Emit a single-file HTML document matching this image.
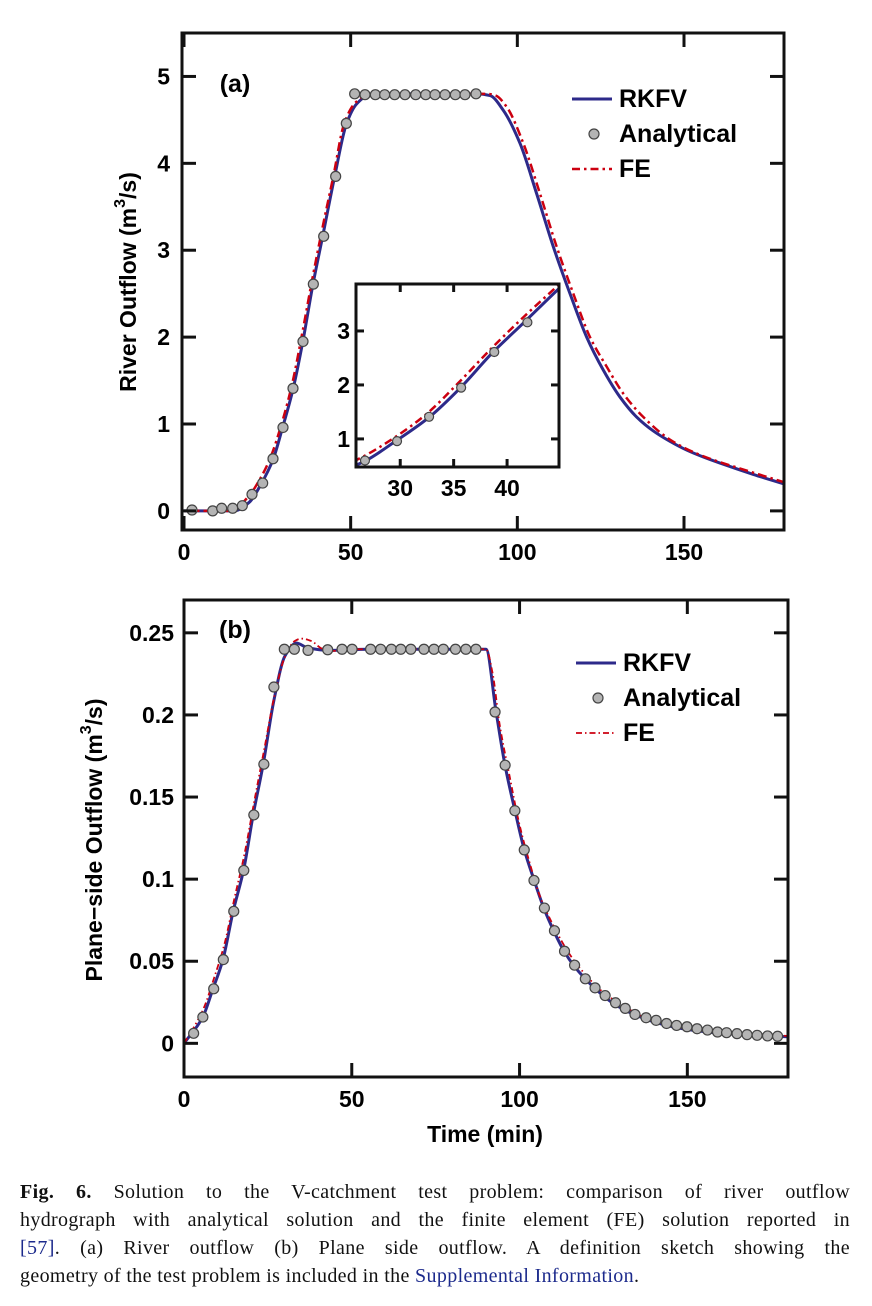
<!DOCTYPE html>
<html><head><meta charset="utf-8"><style>
body{margin:0;background:#fff;width:872px;height:1306px;overflow:hidden;position:relative}
svg{position:absolute;left:0;top:0}
.cap{position:absolute;left:20px;top:1178px;width:830px;font-family:"Liberation Serif",serif;font-size:20px;letter-spacing:0.35px;line-height:28px;color:#111}
.cap span.l{display:block;text-align:justify;text-align-last:justify;white-space:nowrap}
.cap span.last{display:block;text-align:left;white-space:nowrap}
.cap a{color:#1c2a8c;text-decoration:none}
</style></head><body>
<svg id="fig" width="872" height="1170" font-family="Liberation Sans, sans-serif" font-weight="bold"></svg>
<div class="cap"><span class="l"><b>Fig. 6.</b> Solution to the V-catchment test problem: comparison of river outflow</span><span class="l">hydrograph with analytical solution and the finite element (FE) solution reported in</span><span class="l"><a>[57]</a>. (a) River outflow (b) Plane side outflow. A definition sketch showing the</span><span class="last">geometry of the test problem is included in the <a>Supplemental Information</a>.</span></div>
<script>
// Panel (a) data
const aRkfvT=[0,15,19.6,23,26.7,29.5,32.7,35.6,38.6,41.6,45.1,48.7,51.7,55.2,60,88,91.8,95.8,100.8,105.8,110.8,115.8,120.8,125.8,130.8,135.8,140.8,145.8,150.8,155.8,160.8,170.8,180];
const aRkfvV=[0,0,0.1,0.3,0.59,0.95,1.4,1.94,2.59,3.16,3.83,4.45,4.68,4.78,4.8,4.8,4.78,4.61,4.23,3.65,3.04,2.5,2.0,1.62,1.31,1.08,0.92,0.80,0.70,0.62,0.55,0.42,0.31];
const aFeT=[0,14,19,23,26,29.5,32.5,35.5,38.5,41.5,44.8,48,51,54,57,91,93.5,96.8,101.8,106.8,111.8,116.8,121.8,126.8,131.8,137.8,145.8,153.8,170.8,180];
const aFeV=[0,0,0.15,0.38,0.62,1.03,1.47,2.05,2.67,3.25,3.85,4.45,4.68,4.77,4.8,4.8,4.78,4.65,4.23,3.65,3.04,2.5,2.0,1.66,1.35,1.08,0.82,0.66,0.44,0.33];
const aAnaT=[2.4,8.6,11.3,14.6,17.5,20.4,23.6,26.7,29.7,32.7,35.7,38.8,41.9,45.5,48.7,51.2,54.3,57.4,60.2,63.2,66.3,69.5,72.5,75.3,78.3,81.4,84.3,87.6];
const aAnaV=[0.01,0,0.03,0.03,0.06,0.19,0.32,0.6,0.96,1.41,1.95,2.61,3.16,3.85,4.46,4.8,4.79,4.79,4.79,4.79,4.79,4.79,4.79,4.79,4.79,4.79,4.79,4.8];
const aXTicks=[0,50,100,150];
const aYTicks=[0,1,2,3,4,5];
const insetXTicks=[30,35,40];
const insetYTicks=[1,2,3];
// Panel (b) data
const bRkfvT=[0,5.6,8.6,11.6,14.6,17.8,20.6,23.6,26.8,30.1,33.5,36.7,43.3,55,90,93,95.7,98.6,101.4,104.3,107.3,110.3,113.3,116.3,122.2,128.2,134.2,140.8,149.8,161.7,180];
const bRkfvV=[0,0.016,0.033,0.051,0.08,0.106,0.139,0.17,0.209,0.236,0.2437,0.241,0.2393,0.24,0.24,0.202,0.169,0.142,0.118,0.0996,0.082,0.068,0.056,0.047,0.034,0.024,0.0176,0.0126,0.0085,0.0059,0.004];
const bFeT=[0,3,6,9,12,15,18,21,24,27,30,33,35,38,41,44,50,90,92,94,97,100,103,106,110,115,120,125,130,140,150,165,180];
const bFeV=[0,0.01,0.022,0.04,0.06,0.088,0.115,0.148,0.18,0.212,0.235,0.245,0.2465,0.245,0.2405,0.239,0.24,0.24,0.225,0.195,0.163,0.133,0.11,0.09,0.072,0.054,0.041,0.031,0.024,0.0135,0.009,0.006,0.0045];
const bAnaT=[2.87,5.62,8.85,11.72,14.83,17.82,20.81,23.8,26.79,29.9,32.89,36.96,42.82,47.1,50.1,55.6,58.6,61.8,64.6,67.6,71.5,74.5,77.3,80.9,84.0,87.0,92.7,95.7,98.6,101.4,104.3,107.4,110.4,113.4,116.4,119.6,122.5,125.5,128.6,131.5,134.4,137.7,140.7,143.8,146.8,149.9,152.9,156.0,159.0,161.7,164.8,167.8,170.8,173.9,176.9];
const bAnaV=[0.0061,0.016,0.0332,0.051,0.0804,0.1053,0.1391,0.17,0.217,0.24,0.24,0.2393,0.2397,0.24,0.24,0.24,0.24,0.24,0.24,0.24,0.24,0.24,0.24,0.24,0.24,0.24,0.2018,0.1694,0.1417,0.1178,0.0992,0.0824,0.0686,0.0561,0.0476,0.0393,0.0338,0.0291,0.0247,0.0213,0.0176,0.0156,0.014,0.0121,0.0109,0.0101,0.0089,0.0081,0.0069,0.0065,0.0059,0.0053,0.0049,0.0045,0.0043];
const bXTicks=[0,50,100,150];
const bYTicks=[0,0.05,0.1,0.15,0.2,0.25];
const bYLabels=['0','0.05','0.1','0.15','0.2','0.25'];

const NS='http://www.w3.org/2000/svg';
const svg=document.getElementById('fig');
function mk(tag,attrs,parent){const e=document.createElementNS(NS,tag);for(const k in attrs)e.setAttribute(k,attrs[k]);(parent||svg).appendChild(e);return e;}
function pathD(T,V,sx,sy){
  const x=T.map(sx),y=V.map(sy),n=x.length;
  const d=[],m=new Array(n);
  for(let i=0;i<n-1;i++)d.push((y[i+1]-y[i])/(x[i+1]-x[i]));
  m[0]=d[0];m[n-1]=d[n-2];
  for(let i=1;i<n-1;i++){
    if(d[i-1]*d[i]<=0)m[i]=0;
    else{const h0=x[i]-x[i-1],h1=x[i+1]-x[i];const w1=2*h1+h0,w2=h1+2*h0;m[i]=(w1+w2)/(w1/d[i-1]+w2/d[i]);}
  }
  let s='M'+x[0].toFixed(2)+','+y[0].toFixed(2);
  for(let i=0;i<n-1;i++){
    const h=(x[i+1]-x[i])/3;
    s+=' C'+(x[i]+h).toFixed(2)+','+(y[i]+m[i]*h).toFixed(2)+' '+(x[i+1]-h).toFixed(2)+','+(y[i+1]-m[i+1]*h).toFixed(2)+' '+x[i+1].toFixed(2)+','+y[i+1].toFixed(2);
  }
  return s;
}
function txt(x,y,s,size,anchor,name){const e=mk('text',{x:x,y:y,'font-size':size,'text-anchor':anchor||'middle','dominant-baseline':'central'});e.textContent=s;return e;}

function panel(o){
  const sx=t=>o.x0+(t-o.tmin)*(o.x1-o.x0)/(o.tmax-o.tmin);
  const sy=v=>o.yb-(v-o.vmin)*(o.yb-o.yt)/(o.vmax-o.vmin);
  const g=mk('g',{});
  
  
  const cid='clip-'+o.name;
  const cp=mk('clipPath',{id:cid},g);mk('rect',{x:o.x0,y:o.yt,width:o.x1-o.x0,height:o.yb-o.yt},cp);
  const lines=mk('g',{'clip-path':'url(#'+cid+')'},g);
  const blue=mk('path',{d:pathD(o.rT,o.rV,sx,sy),fill:'none',stroke:'#2d2a8a','stroke-width':o.bw||3},lines);
  
  
  const red=mk('path',{d:pathD(o.fT,o.fV,sx,sy),fill:'none',stroke:'#cc0010','stroke-width':o.rw||2.5,'stroke-dasharray':o.dash},lines);
  
  
  o.aT.forEach((t,i)=>{
    const c=mk('circle',{cx:sx(t),cy:sy(o.aV[i]),r:o.mr||5,fill:'#b4b4b4',stroke:'#444','stroke-width':1.2},lines);
    
    
  });
  const tl=o.tl||14;
  o.xt.forEach(t=>{const x=sx(t);
    mk('line',{x1:x,y1:o.yb,x2:x,y2:o.yb-tl,stroke:'#111','stroke-width':3},g);
    mk('line',{x1:x,y1:o.yt,x2:x,y2:o.yt+tl,stroke:'#111','stroke-width':3},g);
    txt(x,o.yb+o.xlo,String(t),o.fs,'middle','x-tick-label');});
  o.yt_.forEach((v,i)=>{const y=sy(v);
    mk('line',{x1:o.x0,y1:y,x2:o.x0+tl,y2:y,stroke:'#111','stroke-width':3},g);
    mk('line',{x1:o.x1,y1:y,x2:o.x1-tl,y2:y,stroke:'#111','stroke-width':3},g);
    txt(o.x0-o.ylo,y,o.yl?o.yl[i]:String(v),o.fs,'end','y-tick-label');});
  const box=mk('rect',{x:o.x0,y:o.yt,width:o.x1-o.x0,height:o.yb-o.yt,fill:'none',stroke:'#111','stroke-width':3},g);
  
  
  return {sx,sy,g};
}

panel({name:'panel-a',x0:182,x1:784,yt:33,yb:530,tmin:-0.6,tmax:180,vmin:-0.22,vmax:5.5,
  rT:aRkfvT,rV:aRkfvV,fT:aFeT,fV:aFeV,aT:aAnaT,aV:aAnaV,xt:aXTicks,yt_:aYTicks,fs:23,xlo:22,ylo:12,dash:'9,4,2.5,4'});
const ib=mk('rect',{x:356,y:284,width:203,height:183,fill:'#fff'});


panel({name:'inset',x0:356,x1:559,yt:284,yb:467,tmin:25.86,tmax:44.86,vmin:0.48,vmax:3.87,
  rT:aRkfvT,rV:aRkfvV,fT:aFeT,fV:aFeV,aT:aAnaT,aV:aAnaV,xt:insetXTicks,yt_:insetYTicks,fs:23,xlo:21,ylo:6,tl:8,dash:'8,4,2.5,4',mr:4.5});

panel({name:'panel-b',x0:184,x1:788,yt:600,yb:1077,tmin:0,tmax:180,vmin:-0.0205,vmax:0.27,
  rT:bRkfvT,rV:bRkfvV,fT:bFeT,fV:bFeV,aT:bAnaT,aV:bAnaV,xt:bXTicks,yt_:bYTicks,yl:bYLabels,fs:23,xlo:22,ylo:10,dash:'6,3,1.5,3',rw:1.8,mr:5});

txt(235,84,'(a)',25,'middle','panel-a-label');
txt(235,630,'(b)',25,'middle','panel-b-label');
let e=mk('text',{transform:'translate(128,282) rotate(-90)','font-size':23,'text-anchor':'middle','dominant-baseline':'central'});
e.innerHTML='River Outflow (m<tspan dy="-8" font-size="16">3</tspan><tspan dy="8">/s)</tspan>';


e=mk('text',{transform:'translate(94,840) rotate(-90)','font-size':23,'text-anchor':'middle','dominant-baseline':'central'});
e.innerHTML='Plane−side Outflow (m<tspan dy="-8" font-size="16">3</tspan><tspan dy="8">/s)</tspan>';


txt(485,1134,'Time (min)',23,'middle','x-axis-title');

function legend(x,y,dy,dash,rw,name){
  const g=mk('g',{});
  
  
  mk('line',{x1:x,y1:y,x2:x+40,y2:y,stroke:'#2d2a8a','stroke-width':3},g);
  mk('circle',{cx:x+22,cy:y+dy,r:5,fill:'#b4b4b4',stroke:'#444','stroke-width':1.2},g);
  mk('line',{x1:x,y1:y+2*dy,x2:x+40,y2:y+2*dy,stroke:'#cc0010','stroke-width':rw,'stroke-dasharray':dash},g);
  [['RKFV',0],['Analytical',dy],['FE',2*dy]].forEach(a=>{const t=txt(x+47,y+a[1],a[0],25,'start','legend-entry');g.appendChild(t);});
}
legend(572,99,35,'8,4,2.5,4',2.5,'legend-a');
legend(576,663,35,'6,3,1.5,3',1.8,'legend-b');
</script>
</body></html>
